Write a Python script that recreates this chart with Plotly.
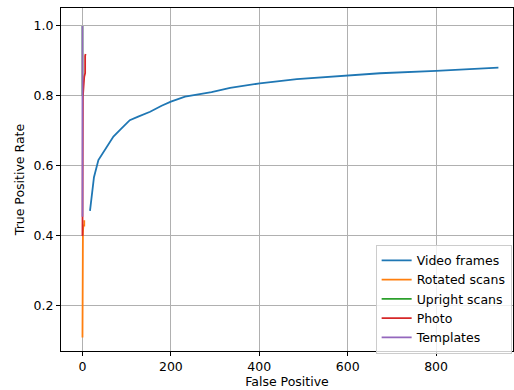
import plotly.graph_objects as go

# Video frames
video_fp = [17, 26, 36, 51, 70, 85, 107, 126, 153, 179, 200, 232, 262, 292, 334, 345, 401, 485, 600, 673, 800, 941]
video_tpr = [0.472, 0.568, 0.617, 0.648, 0.684, 0.703, 0.731, 0.741, 0.755, 0.772, 0.784, 0.798, 0.805, 0.811, 0.823, 0.825, 0.836, 0.848, 0.859, 0.865, 0.872, 0.881]

# Rotated scans
rot_fp = [0, 0, 1, 1, 2, 4, 4]
rot_tpr = [0.11, 0.34, 0.35, 0.41, 0.43, 0.43, 0.445]

# Upright scans
up_fp = [0, 0]
up_tpr = [0.8, 1.0]

# Photo
photo_fp = [0, 0, 1, 4, 6, 6, 7]
photo_tpr = [0.40, 0.45, 0.80, 0.855, 0.865, 0.915, 0.92]

# Templates
tmpl_fp = [0, 0]
tmpl_tpr = [0.455, 1.0]

series = [
    ("Video frames", video_fp, video_tpr, "#1f77b4"),
    ("Rotated scans", rot_fp, rot_tpr, "#ff7f0e"),
    ("Upright scans", up_fp, up_tpr, "#2ca02c"),
    ("Photo", photo_fp, photo_tpr, "#d62728"),
    ("Templates", tmpl_fp, tmpl_tpr, "#9467bd"),
]

fig = go.Figure()
for name, x, y, c in series:
    fig.add_trace(go.Scatter(x=x, y=y, mode="lines", name=name,
                             line=dict(color=c, width=1.8)))

font = dict(family="DejaVu Sans", size=12.5, color="black")
axis_common = dict(
    showgrid=True, gridcolor="#b0b0b0", gridwidth=1,
    showline=True, linecolor="black", linewidth=1, mirror=True,
    ticks="outside", ticklen=4, tickcolor="black", tickwidth=1,
    zeroline=False, tickfont=font,
)

fig.update_layout(
    width=514, height=390,
    margin=dict(l=61, r=1, t=8, b=39),
    paper_bgcolor="white", plot_bgcolor="white",
    font=font,
    xaxis=dict(range=[-48.6, 974.0], tickvals=[0, 200, 400, 600, 800],
               title=dict(text="False Positive", font=font, standoff=3), **axis_common),
    yaxis=dict(range=[0.0714, 1.0514], tickvals=[0.2, 0.4, 0.6, 0.8, 1.0],
               ticktext=["0.2", "0.4", "0.6", "0.8", "1.0"],
               title=dict(text="True Positive Rate", font=font, standoff=6), **axis_common),
    legend=dict(x=0.997, y=-0.008, xanchor="right", yanchor="bottom",
                bgcolor="rgba(255,255,255,0.8)", bordercolor="#cccccc", borderwidth=1,
                font=font, tracegroupgap=0, itemwidth=30),
    showlegend=True,
)

fig.write_html("out.html", config={"displayModeBar": False},
               post_script="document.body.style.margin='0';document.body.style.overflow='hidden';")
